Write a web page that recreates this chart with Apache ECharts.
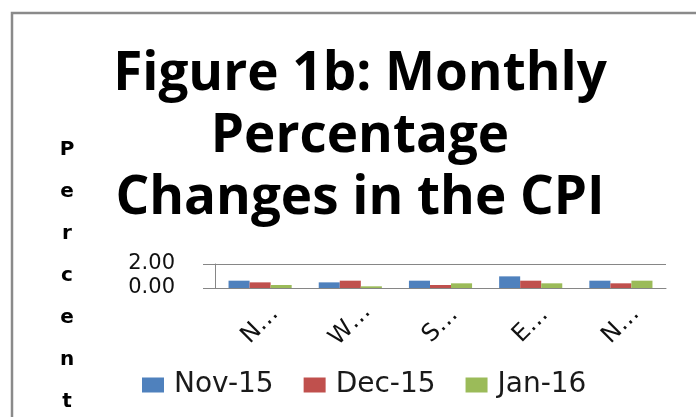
<!doctype html>
<html>
    <head>
        <meta charset="utf-8">
        <style>
            html, body { margin: 0; padding: 0; background: #fff; }
            #main { width: 696px; height: 417px; }
        </style>
    </head>
    <body>
        <div id="main"></div>
        <script src="https://cdn.jsdelivr.net/npm/echarts@6/dist/echarts.min.js"></script>
        <script>
            var chart = echarts.init(document.getElementById('main'));

            // regions (labels are cut short in the original)
            var categories = ['N\u2026', 'W\u2026', 'S\u2026', 'E\u2026', 'N\u2026'];
            var seriesNames = ['Nov-15', 'Dec-15', 'Jan-16'];
            var nov15 = [0.61, 0.47, 0.61, 0.97, 0.61];
            var dec15 = [0.47, 0.61, 0.25, 0.61, 0.39];
            var jan16 = [0.25, 0.14, 0.39, 0.39, 0.61];
            var colors = ['#4F81BD', '#C0504D', '#9BBB59'];

            var axisGray = '#868686';

            function bar(name, values, color) {
                return {
                    name: name,
                    type: 'bar',
                    data: values,
                    barGap: '0%',
                    barCategoryGap: '30%',
                    itemStyle: { color: color },
                    silent: true
                };
            }

            chart.setOption({
                animation: false,
                graphic: [{
                    type: 'rect',
                    shape: { x: 12, y: 13, width: 720, height: 430 },
                    style: { fill: 'none', stroke: '#8a8a8a', lineWidth: 2.5 },
                    z: -1
                }],
                title: {
                    text: 'Figure 1b: Monthly\nPercentage\nChanges in the CPI',
                    left: 360,
                    top: 44,
                    textAlign: 'center',
                    padding: 0,
                    textStyle: {
                        fontFamily: 'Open Sans',
                        fontWeight: 'bold',
                        fontSize: 53,
                        lineHeight: 62,
                        color: '#000'
                    }
                },
                legend: {
                    data: seriesNames,
                    left: 137,
                    top: 366,
                    icon: 'rect',
                    itemWidth: 22,
                    itemHeight: 15,
                    itemGap: 30,
                    textStyle: {
                        fontFamily: 'DejaVu Sans',
                        fontSize: 28,
                        padding: [0, 0, 0, 5],
                        color: '#1a1a1a'
                    }
                },
                grid: {
                    left: 215,
                    right: 30,
                    top: 264,
                    bottom: 129,
                    outerBoundsMode: 'none'
                },
                xAxis: {
                    type: 'category',
                    data: categories,
                    axisLine: { lineStyle: { color: axisGray } },
                    axisTick: { length: 8, lineStyle: { color: axisGray } },
                    axisLabel: {
                        rotate: 45,
                        align: 'center',
                        verticalAlign: 'middle',
                        margin: 37,
                        fontFamily: 'DejaVu Sans',
                        fontSize: 24,
                        color: '#111'
                    }
                },
                yAxis: {
                    type: 'value',
                    min: 0,
                    max: 2,
                    interval: 2,
                    name: 'P\ne\nr\nc\ne\nn\nt',
                    nameLocation: 'middle',
                    nameRotate: 0,
                    nameGap: 148,
                    nameTextStyle: {
                        fontFamily: 'DejaVu Sans',
                        fontWeight: 'bold',
                        fontSize: 20,
                        lineHeight: 42,
                        align: 'center',
                        verticalAlign: 'middle',
                        color: '#000'
                    },
                    axisLine: { show: true, lineStyle: { color: axisGray } },
                    axisTick: { show: true, length: 12, lineStyle: { color: axisGray } },
                    splitLine: { lineStyle: { color: axisGray } },
                    axisLabel: {
                        margin: 40,
                        hideOverlap: false,
                        fontFamily: 'DejaVu Sans',
                        fontSize: 21,
                        color: '#111',
                        formatter: function (v) { return v.toFixed(2); }
                    }
                },
                series: [
                    bar(seriesNames[0], nov15, colors[0]),
                    bar(seriesNames[1], dec15, colors[1]),
                    bar(seriesNames[2], jan16, colors[2])
                ]
            });

            window.addEventListener('resize', function () {
                chart.resize();
            });
        </script>
    </body>
</html>
